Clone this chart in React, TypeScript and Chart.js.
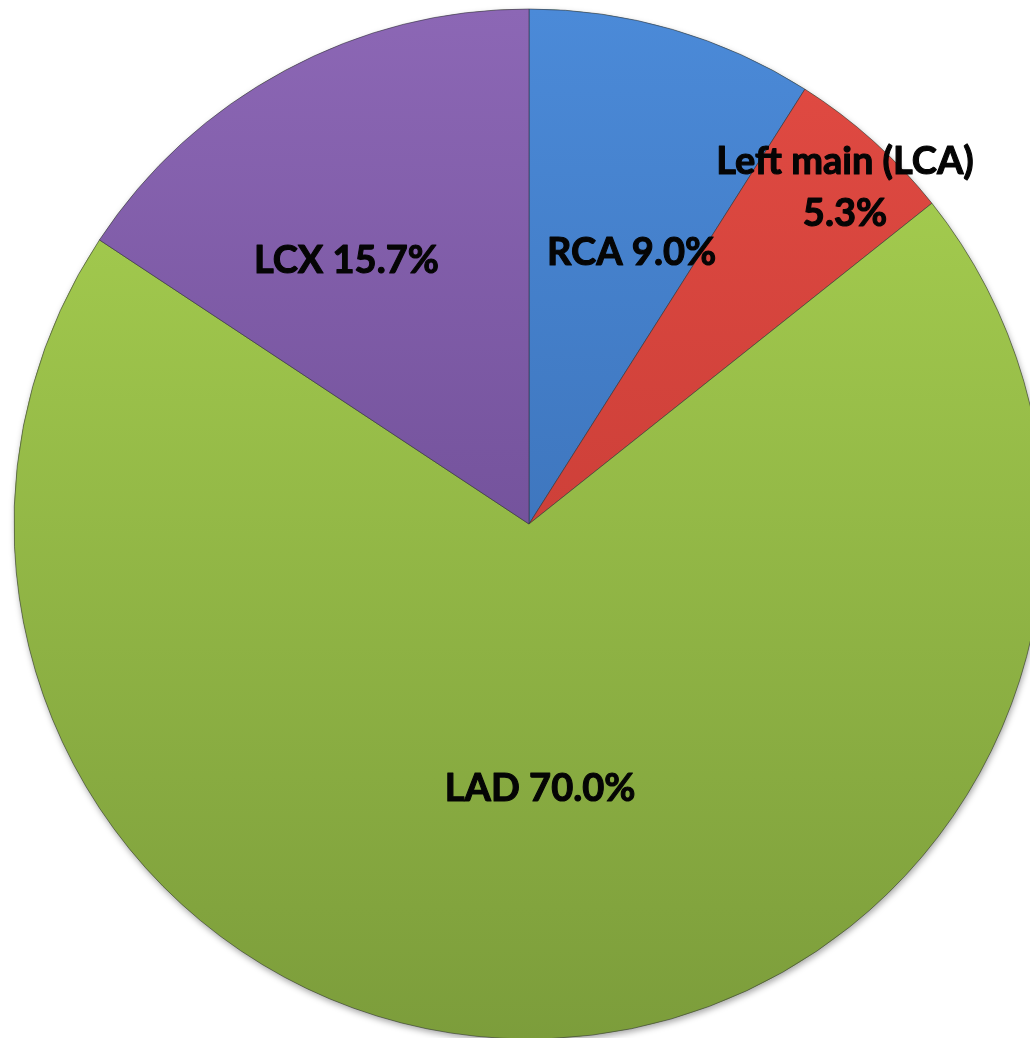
import React, { useEffect, useRef } from 'react';
import { Chart, registerables } from 'chart.js';

Chart.register(...registerables);

// ---- data ----
const categories = ['RCA', 'Left main (LCA)', 'LAD', 'LCX'];
const shares = [9.0, 5.3, 70.0, 15.7];
const labelSplit = [false, true, false, false];

// ---- style ----
const topColors = ['#4B8AD8', '#E24B43', '#ABD452', '#8C67B5'];
const bottomColors = ['#3263A5', '#B9352F', '#7C9D3B', '#5D3F84'];
const labelRadius = [0.566, 0.899, 0.511, 0.625];
const labelShiftDeg = [4.4, 1.1, 0.1, -6.3];
const PIE_RADIUS = 515;
const FONT_SIZE = 38;
const LINE_GAP = 52;
const CANVAS_W = 1058;
const CANVAS_H = 1048;

const shadowPlugin = {
  id: 'pieShadow',
  beforeDatasetsDraw(chart: any) {
    const meta = chart.getDatasetMeta(0);
    const arc = meta.data[0];
    if (!arc) return;
    const { x, y, outerRadius } = arc.getProps(['x', 'y', 'outerRadius'], true);
    const ctx = chart.ctx;
    ctx.save();
    ctx.shadowColor = 'rgba(0,0,0,0.35)';
    ctx.shadowBlur = 6;
    ctx.shadowOffsetY = 3;
    ctx.shadowOffsetX = 1;
    ctx.beginPath();
    ctx.arc(x, y, outerRadius, 0, Math.PI * 2);
    ctx.fillStyle = '#8aa845';
    ctx.fill();
    ctx.restore();
  },
};

const labelPlugin = {
  id: 'sliceLabels',
  afterDatasetsDraw(chart: any) {
    const ctx = chart.ctx;
    const meta = chart.getDatasetMeta(0);
    ctx.save();
    ctx.font = `bold ${FONT_SIZE}px Lato`;
    ctx.fillStyle = '#050505';
    ctx.strokeStyle = '#050505';
    ctx.lineWidth = 1.1;
    ctx.lineJoin = 'round';
    ctx.textAlign = 'center';
    ctx.textBaseline = 'alphabetic';
    const capH = ctx.measureText('H').actualBoundingBoxAscent;
    meta.data.forEach((arc: any, i: number) => {
      const { x, y, startAngle, endAngle, outerRadius } = arc.getProps(
        ['x', 'y', 'startAngle', 'endAngle', 'outerRadius'],
        true
      );
      const mid = (startAngle + endAngle) / 2 + (labelShiftDeg[i] * Math.PI) / 180;
      const r = outerRadius * labelRadius[i];
      const lx = x + Math.cos(mid) * r;
      const ly = y + Math.sin(mid) * r;
      const value = shares[i].toFixed(1) + '%';
      const lines = labelSplit[i] ? [categories[i], value] : [categories[i] + ' ' + value];
      const total = (lines.length - 1) * LINE_GAP;
      lines.forEach((t, k) => {
        const ty = ly - total / 2 + k * LINE_GAP + capH / 2;
        ctx.fillText(t, lx, ty);
        ctx.strokeText(t, lx, ty);
      });
    });
    ctx.restore();
  },
};

export default function App() {
  const canvasRef = useRef<HTMLCanvasElement | null>(null);

  useEffect(() => {
    const canvas = canvasRef.current;
    if (!canvas) return;
    const chart = new Chart(canvas, {
      type: 'pie',
      data: {
        labels: categories,
        datasets: [
          {
            data: shares,
            radius: PIE_RADIUS,
            backgroundColor: (c: any) => {
              const ch = c.chart;
              const area = ch.chartArea;
              const i = c.dataIndex ?? 0;
              if (!area) return topColors[i];
              const cy = (area.top + area.bottom) / 2;
              const g = ch.ctx.createLinearGradient(0, cy - PIE_RADIUS, 0, cy + PIE_RADIUS);
              g.addColorStop(0, topColors[i]);
              g.addColorStop(1, bottomColors[i]);
              return g;
            },
            borderColor: 'rgba(50,50,60,0.55)',
            borderWidth: 1,
          } as any,
        ],
      },
      options: {
        responsive: false,
        animation: false,
        radius: PIE_RADIUS,
        layout: { padding: 0 },
        events: [],
        plugins: {
          legend: { display: false },
          tooltip: { enabled: false },
        },
      } as any,
      plugins: [shadowPlugin, labelPlugin],
    });
    return () => chart.destroy();
  }, []);

  return (
    <div
      style={{
        position: 'fixed',
        left: 0,
        top: 0,
        width: '1030px',
        height: '1038px',
        overflow: 'hidden',
        background: '#ffffff',
      }}
    >
      <canvas
        ref={canvasRef}
        width={CANVAS_W}
        height={CANVAS_H}
        style={{ display: 'block', width: CANVAS_W + 'px', height: CANVAS_H + 'px' }}
      />
    </div>
  );
}
